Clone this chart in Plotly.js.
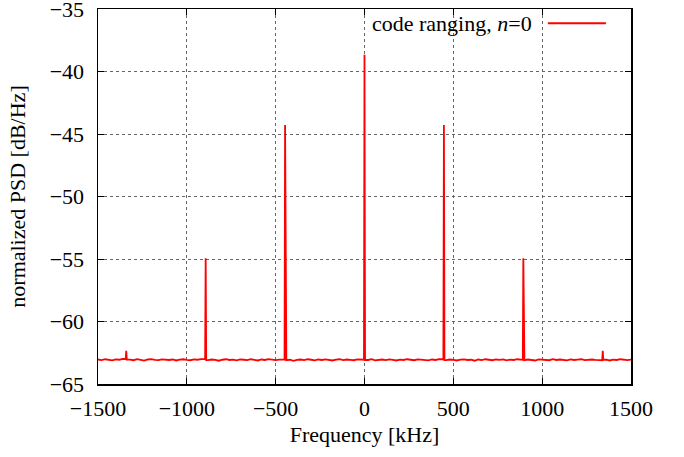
<!DOCTYPE html>
<html>
<head>
<meta charset="utf-8">
<script src="https://cdn.plot.ly/plotly-3.0.1.min.js"></script>
<style>html,body{margin:0;padding:0;background:#fff;}#chart{width:684px;height:457px;}</style>
</head>
<body>
<div id="chart"></div>
<script>
// Noise floor samples (kHz, dB/Hz)
const floorFreq = [
-1500,-1480,-1460,-1440,-1420,-1400,-1380,-1360,-1340,-1320,
-1300,-1280,-1260,-1240,-1220,-1200,-1180,-1160,-1140,-1120,
-1100,-1080,-1060,-1040,-1020,-1000,-980,-960,-940,-920,
-900,-880,-860,-840,-820,-800,-780,-760,-740,-720,
-700,-680,-660,-640,-620,-600,-580,-560,-540,-520,
-500,-480,-460,-440,-420,-400,-380,-360,-340,-320,
-300,-280,-260,-240,-220,-200,-180,-160,-140,-120,
-100,-80,-60,-40,-20,0,20,40,60,80,
100,120,140,160,180,200,220,240,260,280,
300,320,340,360,380,400,420,440,460,480,
500,520,540,560,580,600,620,640,660,680,
700,720,740,760,780,800,820,840,860,880,
900,920,940,960,980,1000,1020,1040,1060,1080,
1100,1120,1140,1160,1180,1200,1220,1240,1260,1280,
1300,1320,1340,1360,1380,1400,1420,1440,1460,1480,
1500];
const floorPSD = [
-63.04,-63.09,-63.02,-63.07,-63.11,-63.03,-63.06,-63.00,-63.08,-63.05,
-63.10,-63.02,-63.06,-63.13,-63.04,-63.01,-63.07,-63.09,-63.03,-63.06,
-63.08,-63.04,-63.12,-63.05,-63.02,-63.07,-63.10,-63.03,-63.06,-63.01,
-63.05,-63.09,-63.04,-63.07,-63.14,-63.06,-63.02,-63.08,-63.05,-63.11,
-63.03,-63.06,-63.09,-63.02,-63.07,-63.12,-63.04,-63.08,-63.01,-63.06,
-63.09,-63.05,-63.03,-63.10,-63.06,-63.15,-63.07,-63.04,-63.09,-63.02,
-63.06,-63.11,-63.04,-63.08,-63.03,-63.07,-63.12,-63.05,-63.02,-63.09,
-63.04,-63.07,-63.10,-63.03,-63.06,-63.05,-63.08,-63.02,-63.11,-63.06,
-63.04,-63.09,-63.03,-63.07,-63.12,-63.05,-63.08,-63.02,-63.06,-63.10,
-63.03,-63.07,-63.05,-63.11,-63.04,-63.08,-63.02,-63.06,-63.09,-63.04,
-63.07,-63.12,-63.05,-63.03,-63.08,-63.06,-63.14,-63.04,-63.09,-63.02,
-63.06,-63.10,-63.04,-63.07,-63.03,-63.11,-63.05,-63.08,-63.02,-63.07,
-63.09,-63.04,-63.06,-63.12,-63.03,-63.07,-63.05,-63.10,-63.02,-63.08,
-63.04,-63.06,-63.11,-63.03,-63.08,-63.05,-63.02,-63.09,-63.06,-63.04,
-63.07,-63.10,-63.03,-63.06,-63.12,-63.05,-63.08,-63.02,-63.06,-63.09,
-63.05];
// Spectral lines
const peakFreq = [-1341, -894, -447, 0, 447, 894, 1341];
const peakPSD  = [-62.35, -54.95, -44.27, -38.65, -44.27, -54.95, -62.35];

const xTicks = [-1500, -1000, -500, 0, 500, 1000, 1500];
const yTicks = [-65, -60, -55, -50, -45, -40, -35];
const legendLabel = 'code ranging, <i>n</i>=0';

// Merge floor and spike samples into one sorted trace
const halfWidth = 3;
let pts = [];
for (let i = 0; i < floorFreq.length; i++) {
  const near = peakFreq.some(f => Math.abs(floorFreq[i] - f) <= halfWidth + 1);
  if (!near) pts.push([floorFreq[i], floorPSD[i]]);
}
function floorAt(f) {
  let best = 0, bd = Infinity;
  floorFreq.forEach((ff, i) => { const d = Math.abs(ff - f); if (d < bd) { bd = d; best = i; } });
  return floorPSD[best];
}
peakFreq.forEach((f, i) => {
  pts.push([f - halfWidth, floorAt(f - 20)]);
  pts.push([f, peakPSD[i]]);
  pts.push([f + halfWidth, floorAt(f + 20)]);
});
pts.sort((a, b) => a[0] - b[0]);

const font = {family: 'Liberation Serif, Times New Roman, serif', size: 22, color: '#000'};

const trace = {
  x: pts.map(p => p[0]),
  y: pts.map(p => p[1]),
  type: 'scatter',
  mode: 'lines',
  line: {color: '#ff0000', width: 1.8},
  showlegend: false,
  hoverinfo: 'skip',
  cliponaxis: true
};

const axisCommon = {
  showline: true, linecolor: '#000', linewidth: 1.5, mirror: 'ticks',
  ticks: 'inside', ticklen: 6, tickwidth: 1, tickcolor: '#000',
  showgrid: true, gridcolor: '#666', gridwidth: 1, griddash: 'dot',
  zeroline: false, tickfont: font, ticklabeloverflow: 'allow'
};

const layout = {
  width: 684, height: 457,
  margin: {l: 98, r: 53, t: 9, b: 73},
  paper_bgcolor: '#fff', plot_bgcolor: '#fff',
  font: font,
  xaxis: Object.assign({}, axisCommon, {
    range: [-1500.01, 1500.01], tickvals: xTicks, ticktext: xTicks.map(v => v < 0 ? '\u2212' + Math.abs(v) : String(v)),
    ticklabelstandoff: 4,
    title: {text: 'Frequency [kHz]', font: font, standoff: 6}
  }),
  yaxis: Object.assign({}, axisCommon, {
    range: [-65.001, -34.999], tickvals: yTicks, ticktext: yTicks.map(v => '\u2212' + Math.abs(v)),
    ticklabelstandoff: 8,
    title: {text: 'normalized PSD [dB/Hz]', font: font, standoff: 18}
  }),
  annotations: [{
    xref: 'paper', yref: 'paper', x: 0.818, y: 0.962, xanchor: 'right', yanchor: 'middle',
    text: legendLabel, showarrow: false, font: font
  }],
  shapes: [{
    type: 'line', xref: 'paper', yref: 'paper', x0: 0.844, x1: 0.953, y0: 0.962, y1: 0.962,
    line: {color: '#ff0000', width: 1.8}
  }]
};

Plotly.newPlot('chart', [trace], layout, {displayModeBar: false, staticPlot: true});
</script>
</body>
</html>
